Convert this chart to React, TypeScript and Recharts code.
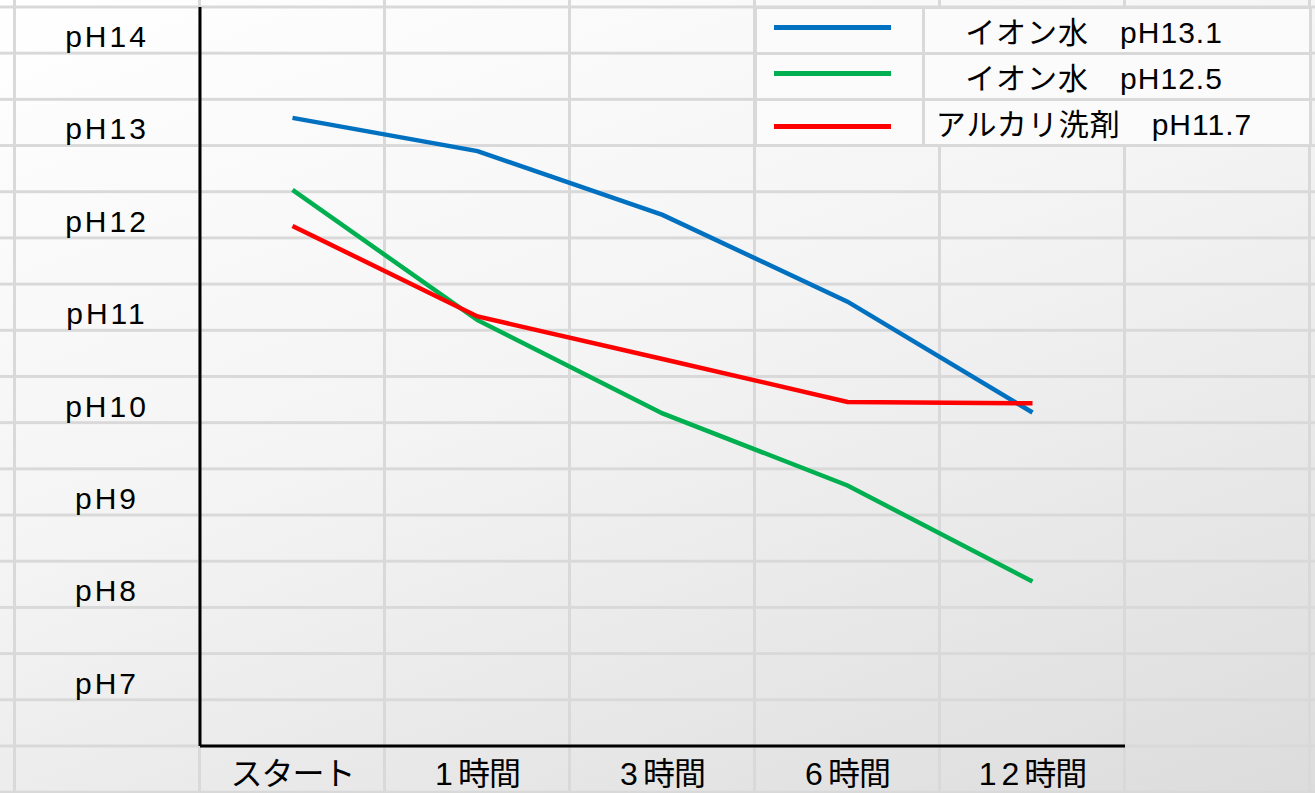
import { FC } from 'react';
import { Legend, Line, LineChart, XAxis, YAxis } from 'recharts';

const categories = ['スタート', '1時間', '3時間', '6時間', '12時間'];
const ion131 = [13.05, 12.69, 12.0, 11.06, 9.86];
const ion125 = [12.27, 10.86, 9.85, 9.07, 8.03];
const alkali117 = [11.88, 10.9, 10.44, 9.975, 9.96];
const seriesNames = ['イオン水　pH13.1', 'イオン水　pH12.5', 'アルカリ洗剤　pH11.7'];
const phTicks = [7, 8, 9, 10, 11, 12, 13, 14];

const data = categories.map((c, i) => ({
    name: c,
    a: ion131[i],
    b: ion125[i],
    c: alkali117[i],
}));

const FONT = '"Liberation Sans", "Noto Sans CJK JP", sans-serif';
const GRID = '#d9d9d9';

const YTick = (props: any) => {
    const { x, y, payload } = props;
    return (
        <text x={x - 93} y={y + 17} textAnchor="middle" fontSize={30} fontFamily={FONT} fill="#000" letterSpacing={3}>
            {`pH${payload.value}`}
        </text>
    );
};

// digits are spaced wider than the kana/kanji, like a half-width gothic font
const XTick = (props: any) => {
    const { x, y, payload } = props;
    const label = String(payload.value);
    const m = label.match(/^(\d+)(.*)$/);
    return (
        <text x={x} y={y + 39} textAnchor="middle" fontSize={32} fontFamily={FONT} fill="#000">
            {m ? (
                <>
                    <tspan letterSpacing={5}>{m[1]}</tspan>
                    <tspan letterSpacing={-1}>{m[2]}</tspan>
                </>
            ) : (
                <tspan letterSpacing={-1}>{label}</tspan>
            )}
        </text>
    );
};

const LegendBox = (props: any) => {
    const items = [...(props.payload || [])].sort(
        (p: any, q: any) => seriesNames.indexOf(p.value) - seriesNames.indexOf(q.value)
    );
    return (
        <div style={{ width: 558, background: '#fbfbfb', fontFamily: FONT }}>
            {items.map((p: any, i: number) => (
                <div
                    key={i}
                    style={{
                        display: 'flex',
                        height: 43.2,
                        borderTop: `3px solid ${GRID}`,
                        borderBottom: i === items.length - 1 ? `3px solid ${GRID}` : undefined,
                    }}
                >
                    <div
                        style={{
                            width: 171,
                            borderLeft: `3px solid ${GRID}`,
                            borderRight: `3px solid ${GRID}`,
                            display: 'flex',
                            alignItems: 'center',
                            paddingLeft: 17,
                            boxSizing: 'border-box',
                        }}
                    >
                        <div style={{ width: 117, height: 5, background: p.color, marginTop: i === 2 ? 8 : -6 }} />
                    </div>
                    <div
                        style={{
                            flex: 1,
                            borderRight: `3px solid ${GRID}`,
                            display: 'flex',
                            alignItems: 'center',
                            justifyContent: 'center',
                            paddingRight: 46,
                            fontSize: 30,
                            color: '#000',
                            whiteSpace: 'pre',
                            letterSpacing: 1,
                        }}
                    >
                        {p.value}
                    </div>
                </div>
            ))}
        </div>
    );
};

const App: FC = () => {
    return (
        <div
            style={{
                position: 'absolute',
                left: 0,
                top: 0,
                width: 1315,
                height: 793,
                backgroundColor: '#f2f2f2',
                backgroundImage: `linear-gradient(to right, ${GRID} 3px, transparent 3px), linear-gradient(to bottom, ${GRID} 3px, transparent 3px), linear-gradient(160deg, #ffffff 0%, #f4f4f4 45%, #dcdcdc 100%)`,
                backgroundSize: '185px 46.2px, 185px 46.2px, 100% 100%',
                backgroundPosition: '13px 5.5px, 13px 5.5px, 0 0',
            }}
        >
            <LineChart width={1315} height={793} data={data} margin={{ top: 7, right: 190, left: 0, bottom: 0 }}>
                <XAxis
                    dataKey="name"
                    height={47}
                    padding={{ left: 92.5, right: 92.5 }}
                    tickLine={false}
                    tickSize={0}
                    tickMargin={0}
                    axisLine={{ stroke: '#000', strokeWidth: 3 }}
                    tick={<XTick />}
                    interval={0}
                />
                <YAxis
                    width={200}
                    domain={[6.25, 14.25]}
                    ticks={phTicks}
                    tickLine={false}
                    tickSize={0}
                    tickMargin={0}
                    axisLine={{ stroke: '#000', strokeWidth: 3 }}
                    tick={<YTick />}
                    interval={0}
                />
                <Legend
                    layout="vertical"
                    align="center"
                    verticalAlign="middle"
                    wrapperStyle={{ left: 754, top: 5.5, width: 558 }}
                    content={<LegendBox />}
                />
                <Line type="linear" dataKey="a" name={seriesNames[0]} stroke="#0070C0" strokeWidth={4.5} dot={false} isAnimationActive={false} />
                <Line type="linear" dataKey="b" name={seriesNames[1]} stroke="#00B050" strokeWidth={4.5} dot={false} isAnimationActive={false} />
                <Line type="linear" dataKey="c" name={seriesNames[2]} stroke="#FF0000" strokeWidth={4.5} dot={false} isAnimationActive={false} />
            </LineChart>
        </div>
    );
};

export default App;
